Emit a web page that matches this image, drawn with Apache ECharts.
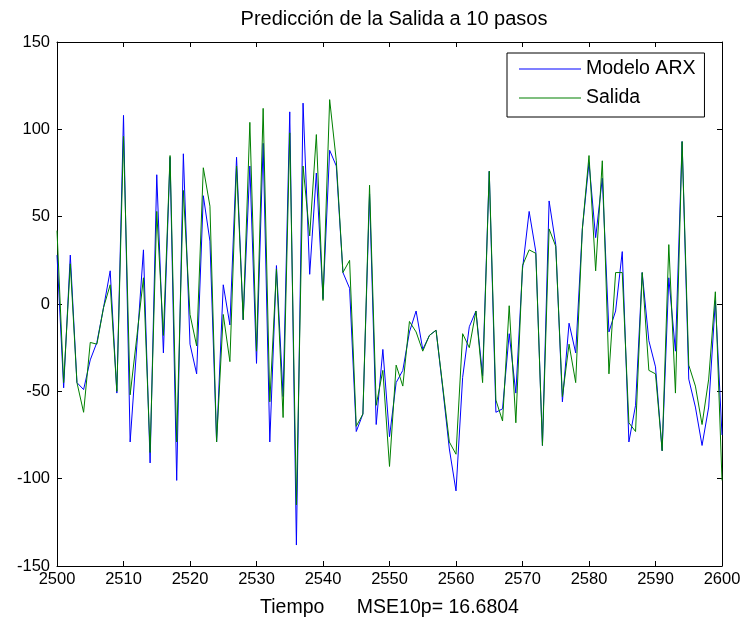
<!DOCTYPE html>
<html>
<head>
<meta charset="utf-8">
<script src="https://cdn.jsdelivr.net/npm/echarts@6/dist/echarts.min.js"></script>
<style>
  html, body { margin: 0; padding: 0; background: #fff; }
  #chart { width: 744px; height: 620px; }
</style>
</head>
<body>
<div id="chart"></div>
<script>
// Time axis: samples 2500 .. 2600, one per step
const tStart = 2500;
const xTicks = [2500, 2510, 2520, 2530, 2540, 2550, 2560, 2570, 2580, 2590, 2600];
const yTicks = [-150, -100, -50, 0, 50, 100, 150];

// 10-step-ahead prediction of the ARX model
const modeloARX = [
  28, -48, 28, -45, -49, -32, -22, -2, 19, -51,
  108, -79, -24, 31, -91, 74, -28, 84, -101, 86,
  -23, -40, 62, 36, -79, 11, -12, 84, -9, 79,
  -34, 92, -79, 22, -53, 110, -138, 115, 17, 75,
  3, 88, 79, 18, 9, -73, -63, 63, -69, -26,
  -76, -45, -38, -16, -4, -26, -18, -15, -48, -83,
  -107, -42, -13, -4, -41, 76, -62, -60, -17, -51,
  20, 53, 30, -81, 59, 34, -56, -11, -28, 43,
  81, 38, 72, -16, -4, 30, -79, -58, 18, -21,
  -36, -84, 15, -27, 93, -43, -59, -81, -59, 2,
  -75
];

// Measured output
const salida = [
  42, -45, 23, -45, -62, -22, -23, -2, 11, -50,
  96, -52, -19, 15, -85, 53, -18, 85, -79, 65,
  -6, -24, 78, 56, -79, -6, -33, 79, -9, 104,
  -27, 112, -56, 20, -65, 98, -115, 79, 39, 97,
  2, 117, 82, 18, 25, -70, -63, 68, -58, -38,
  -93, -35, -47, -10, -16, -27, -18, -15, -47, -79,
  -86, -17, -25, -4, -45, 76, -55, -67, -1, -68,
  22, 31, 29, -81, 43, 33, -53, -23, -45, 43,
  85, 19, 82, -40, 18, 18, -68, -73, 18, -38,
  -40, -84, 34, -51, 93, -35, -47, -69, -43, 7,
  -101
];

const toPairs = arr => arr.map((v, i) => [tStart + i, v]);

const FONT = 'Liberation Sans, Arial, sans-serif';
const chart = echarts.init(document.getElementById('chart'), null, { renderer: 'canvas' });

const baseX = {
  type: 'value',
  min: xTicks[0],
  max: xTicks[xTicks.length - 1],
  interval: 10,
  splitLine: { show: false },
  axisLine: { show: true, onZero: false, lineStyle: { color: '#000', width: 1 } },
  axisTick: { show: true, inside: true, length: 5, lineStyle: { color: '#000' } }
};
const baseY = {
  type: 'value',
  min: yTicks[0],
  max: yTicks[yTicks.length - 1],
  interval: 50,
  splitLine: { show: false },
  axisLine: { show: true, onZero: false, lineStyle: { color: '#000', width: 1 } },
  axisTick: { show: true, inside: true, length: 5, lineStyle: { color: '#000' } }
};

chart.setOption({
  animation: false,
  backgroundColor: '#fff',
  title: {
    text: 'Predicción de la Salida a 10 pasos',
    left: 389,
    top: 4,
    textAlign: 'center',
    textStyle: { fontFamily: FONT, fontSize: 20, fontWeight: 'normal', color: '#000' }
  },
  grid: { left: 57, right: 22, top: 42, bottom: 54, containLabel: false, outerBoundsMode: 'none' },
  legend: {
    orient: 'vertical',
    left: 507,
    top: 53,
    padding: [6, 9, 9, 12],
    itemGap: 9,
    itemWidth: 62,
    itemHeight: 1,
    icon: 'rect',
    backgroundColor: '#fff',
    borderColor: '#000',
    borderWidth: 1,
    borderRadius: 0,
    textStyle: { fontFamily: FONT, fontSize: 19.5, color: '#000', lineHeight: 20 },
    data: ['Modelo ARX', 'Salida']
  },
  xAxis: [
    Object.assign({}, baseX, {
      position: 'bottom',
      name: 'Tiempo      MSE10p= 16.6804',
      nameLocation: 'middle',
      nameGap: 32,
      nameTextStyle: { fontFamily: FONT, fontSize: 19.5, color: '#000' },
      axisLabel: { show: true, margin: 5, fontFamily: FONT, fontSize: 16.5, color: '#000',
        formatter: v => String(v) }
    }),
    Object.assign({}, baseX, { position: 'top', axisLabel: { show: false } })
  ],
  yAxis: [
    Object.assign({}, baseY, {
      position: 'left',
      axisLabel: { show: true, margin: 7, fontFamily: FONT, fontSize: 16.5, color: '#000' }
    }),
    Object.assign({}, baseY, { position: 'right', axisLabel: { show: false } })
  ],
  series: [
    {
      name: 'Modelo ARX',
      type: 'line',
      data: toPairs(modeloARX),
      showSymbol: false,
      symbol: 'none',
      color: '#0000ff',
      lineStyle: { color: '#0000ff', width: 1 },
      z: 2
    },
    {
      name: 'Salida',
      type: 'line',
      data: toPairs(salida),
      showSymbol: false,
      symbol: 'none',
      color: '#008000',
      lineStyle: { color: '#008000', width: 1 },
      z: 3
    }
  ]
});
</script>
</body>
</html>
